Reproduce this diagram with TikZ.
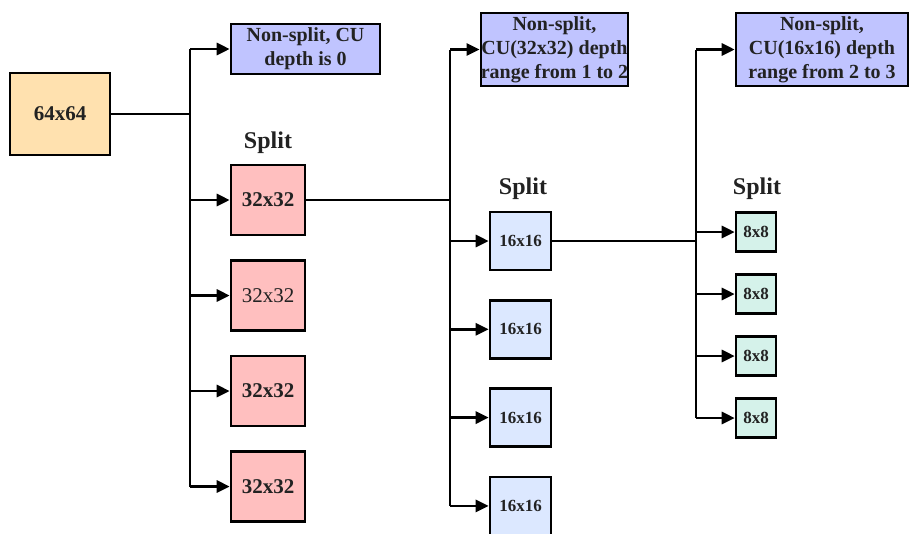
\documentclass[tikz,border=0pt]{standalone}
\usepackage{fontspec}
\setmainfont{Liberation Serif}
\usepackage{tikz}
\usetikzlibrary{arrows.meta,positioning}

\definecolor{cuorange}{HTML}{FFE1AF}
\definecolor{cuviolet}{HTML}{C0C4FF}
\definecolor{cupink}{HTML}{FFBFBF}
\definecolor{cublue}{HTML}{DCE8FF}
\definecolor{cumint}{HTML}{D5F2EA}
\definecolor{cutext}{HTML}{222222}

\begin{document}
\begin{tikzpicture}[x=1pt,y=1pt,->,>={Triangle[length=13pt,width=12pt]},
		line width=2.8pt,
		main node/.style={rectangle,draw,line width=2.6pt,inner sep=0pt,align=center,text=cutext,font=\bfseries},
		text node/.style={rectangle,inner sep=0pt,text=cutext,font=\fontsize{24}{28}\selectfont\bfseries}]
		
		\useasboundingbox (0,0) rectangle (912,-533);
		
		\node[main node,fill=cuorange,minimum width=100pt,minimum height=82pt,font=\fontsize{21}{24}\selectfont\bfseries] (a) at (60,-114) {64x64};
		\node[main node,fill=cuviolet,minimum width=149pt,minimum height=50pt,font=\fontsize{20}{24}\selectfont\bfseries] (n1) at (305.5,-49) {Non-split, CU\\depth is 0};
		\node[main node,fill=cuviolet,minimum width=129pt,minimum height=73pt,font=\fontsize{20}{24}\selectfont\bfseries] (n2) at (554.5,-49.5) {Non-split,\\CU(32x32) depth\\range from 1 to 2};
		\node[main node,fill=cuviolet,minimum width=172pt,minimum height=73pt,font=\fontsize{20}{24}\selectfont\bfseries] (n3) at (822,-49.5) {Non-split,\\CU(16x16) depth\\range from 2 to 3};
		
		% 32x32 column
		\node[main node,fill=cupink,minimum width=74pt,minimum height=70pt,font=\fontsize{21}{24}\selectfont\bfseries] (b1) at (268,-200) {32x32};
		\node[main node,fill=cupink,minimum width=74pt,minimum height=70pt,font=\fontsize{21}{24}\selectfont] (b2) [below of=b1,node distance=95.5pt] {32x32};
		\node[main node,fill=cupink,minimum width=74pt,minimum height=70pt,font=\fontsize{21}{24}\selectfont\bfseries] (b3) [below of=b2,node distance=95.5pt] {32x32};
		\node[main node,fill=cupink,minimum width=74pt,minimum height=70pt,font=\fontsize{21}{24}\selectfont\bfseries] (b4) [below of=b3,node distance=95.5pt] {32x32};
		
		% 16x16 column
		\node[main node,fill=cublue,minimum width=61pt,minimum height=58pt,font=\fontsize{17}{20}\selectfont\bfseries] (c1) at (520.5,-241) {16x16};
		\node[main node,fill=cublue,minimum width=61pt,minimum height=58pt,font=\fontsize{17}{20}\selectfont\bfseries] (c2) [below of=c1,node distance=88.3pt] {16x16};
		\node[main node,fill=cublue,minimum width=61pt,minimum height=58pt,font=\fontsize{17}{20}\selectfont\bfseries] (c3) [below of=c2,node distance=88.3pt] {16x16};
		\node[main node,fill=cublue,minimum width=61pt,minimum height=58pt,font=\fontsize{17}{20}\selectfont\bfseries] (c4) [below of=c3,node distance=88.3pt] {16x16};
		
		% 8x8 column
		\node[main node,fill=cumint,minimum width=40pt,minimum height=39pt,font=\fontsize{17}{20}\selectfont\bfseries] (d1) at (756,-232) {8x8};
		\node[main node,fill=cumint,minimum width=40pt,minimum height=39pt,font=\fontsize{17}{20}\selectfont\bfseries] (d2) [below of=d1,node distance=62pt] {8x8};
		\node[main node,fill=cumint,minimum width=40pt,minimum height=39pt,font=\fontsize{17}{20}\selectfont\bfseries] (d3) [below of=d2,node distance=62pt] {8x8};
		\node[main node,fill=cumint,minimum width=40pt,minimum height=39pt,font=\fontsize{17}{20}\selectfont\bfseries] (d4) [below of=d3,node distance=62pt] {8x8};
		
		\node[text node] (s1) at (268,-143) {Split};
		\node[text node] (s2) at (523,-189) {Split};
		\node[text node] (s3) at (757,-189) {Split};
		
		% buses
		\coordinate (p1) at (190,-114);
		\coordinate (p2) at (450,-200);
		\coordinate (p3) at (696,-241);
		
		\draw[-] (a) -- (p1);
		\draw[-] (b1) -- (p2);
		\draw[-] (c1) -- (p3);
		\draw[-] (n1 -| p1) -- (b4 -| p1);
		\draw[-] (n2 -| p2) -- (c4 -| p2);
		\draw[-] (n3 -| p3) -- (d4 -| p3);
		
		\foreach \n in {n1,b1,b2,b3,b4} \draw (\n -| p1) -- (\n);
		\foreach \n in {n2,c1,c2,c3,c4} \draw (\n -| p2) -- (\n);
		\foreach \n in {n3,d1,d2,d3,d4} \draw (\n -| p3) -- (\n);
		
\end{tikzpicture}
\end{document}
